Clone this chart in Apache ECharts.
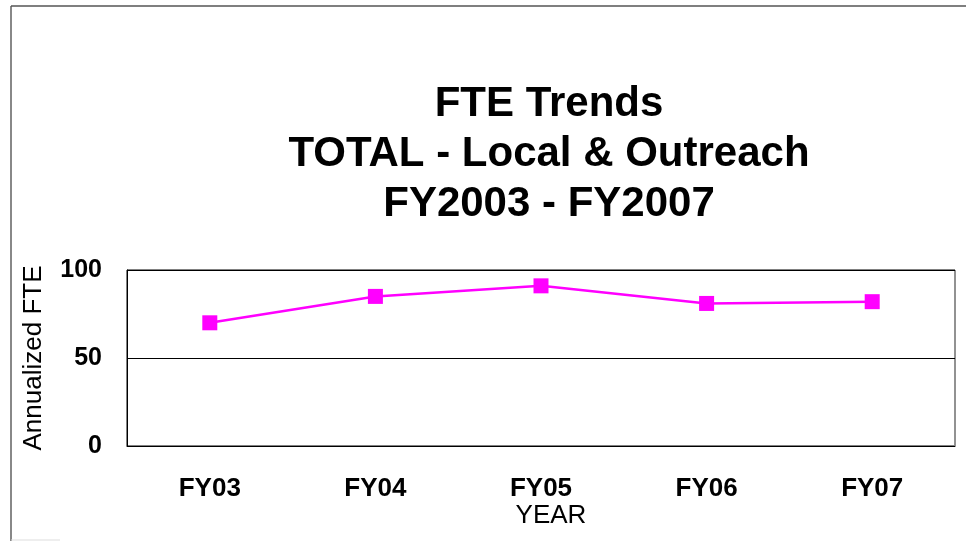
<!DOCTYPE html>
<html><head><meta charset="utf-8">
<script src="https://cdn.jsdelivr.net/npm/echarts@6/dist/echarts.min.js"></script>
<style>html,body{margin:0;padding:0;background:#fff}#c{width:966px;height:541px}</style>
</head><body><div id="c"></div>
<script>
const categories = ['FY03','FY04','FY05','FY06','FY07'];
const fteValues = [70, 85, 91, 81, 82];
const yTicks = [0, 50, 100];
const titleLines = ['FTE Trends', 'TOTAL - Local & Outreach', 'FY2003 - FY2007'];

const chart = echarts.init(document.getElementById('c'), null, {renderer: 'canvas'});
chart.setOption({
  animation: false,
  backgroundColor: '#fff',
  title: {
    text: titleLines.join('\n'),
    left: 544, top: 74, textAlign: 'center',
    textStyle: {fontFamily: 'Liberation Sans', fontWeight: 'bold', fontSize: 42, lineHeight: 50, color: '#000'}
  },
  graphic: [
    {type: 'line', shape: {x1: 11, y1: 6, x2: 11, y2: 541}, style: {stroke: '#888', lineWidth: 2}},
    {type: 'line', shape: {x1: 11, y1: 6, x2: 966, y2: 6}, style: {stroke: '#555', lineWidth: 1.5}},
    {type: 'line', shape: {x1: 11, y1: 540, x2: 60, y2: 540}, style: {stroke: '#ddd', lineWidth: 1}},
    {type: 'line', shape: {x1: 955, y1: 270, x2: 955, y2: 446}, style: {stroke: '#999', lineWidth: 1.5}}
  ],
  grid: {left: 127, right: 11, top: 270, bottom: 95, show: true, borderColor: '#000', borderWidth: 1, backgroundColor: '#fff'},
  xAxis: {
    type: 'category', data: categories, boundaryGap: true,
    name: 'YEAR', nameLocation: 'middle', nameGap: 55,
    nameTextStyle: {fontFamily: 'Liberation Sans', fontSize: 26, color: '#000', padding: [0,0,0,20]},
    axisLine: {lineStyle: {color: '#000'}}, axisTick: {show: false},
    axisLabel: {fontFamily: 'Liberation Sans', fontWeight: 'bold', fontSize: 26, color: '#000', margin: 30}
  },
  yAxis: {
    type: 'value', min: yTicks[0], max: yTicks[yTicks.length-1], interval: 50,
    name: 'Annualized FTE', nameLocation: 'middle', nameGap: 80, nameRotate: 90,
    nameTextStyle: {fontFamily: 'Liberation Sans', fontSize: 26, color: '#000'},
    axisLine: {show: true, lineStyle: {color: '#000'}}, axisTick: {show: false},
    axisLabel: {fontFamily: 'Liberation Sans', fontWeight: 'bold', fontSize: 25, color: '#000', margin: 25},
    splitLine: {show: true, lineStyle: {color: '#000', width: 1}}
  },
  series: [{
    type: 'line', data: fteValues,
    symbol: 'rect', symbolSize: 15,
    itemStyle: {color: '#ff00ff'},
    lineStyle: {color: '#ff00ff', width: 2.5}
  }]
});
</script></body></html>
